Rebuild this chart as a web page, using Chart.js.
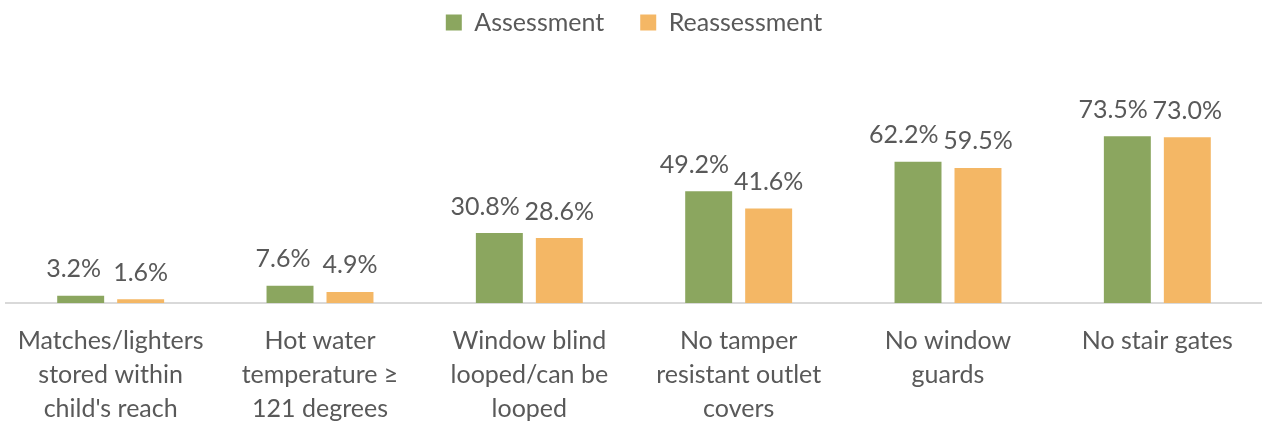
<!DOCTYPE html>
<html lang="en">
    <head>
        <meta charset="UTF-8">
        <title>Home safety - Assessment vs Reassessment</title>
        <script src="https://cdn.jsdelivr.net/npm/chart.js"></script>
        <style>
            body { margin: 0; background: #fff; }
            #wrap { width: 1262px; height: 421px; }
        </style>
    </head>
    <body>
        <div id="wrap"><canvas id="safetyChart" width="1262" height="421"></canvas></div>

        <script>
            // data
            const categories = [
                ["Matches/lighters", "stored within", "child's reach"],
                ["Hot water", "temperature \u2265", "121 degrees"],
                ["Window blind", "looped/can be", "looped"],
                ["No tamper", "resistant outlet", "covers"],
                ["No window", "guards"],
                ["No stair gates"]
            ];
            const assessment = [3.2, 7.6, 30.8, 49.2, 62.2, 73.5];
            const reassessment = [1.6, 4.9, 28.6, 41.6, 59.5, 73.0];
            const seriesNames = ["Assessment", "Reassessment"];

            const textColor = '#595959';
            const fontFamily = 'Lato, "Open Sans", sans-serif';
            const fontSize = 25;

            // value labels above each bar
            const valueLabels = {
                id: 'valueLabels',
                afterDatasetsDraw(chart) {
                    const ctx = chart.ctx;
                    ctx.save();
                    ctx.font = fontSize + 'px ' + fontFamily;
                    ctx.fillStyle = textColor;
                    ctx.textBaseline = 'bottom';
                    chart.data.datasets.forEach((ds, i) => {
                        chart.getDatasetMeta(i).data.forEach((bar, j) => {
                            const txt = ds.data[j].toFixed(1) + '%';
                            if (i === 0) {
                                ctx.textAlign = 'right';
                                ctx.fillText(txt, bar.x + bar.width / 2 - 3, bar.y - 14);
                            } else {
                                ctx.textAlign = 'center';
                                ctx.fillText(txt, bar.x, bar.y - 14);
                            }
                        });
                    });
                    ctx.restore();
                }
            };

            // make the legend block taller so the plot starts lower
            const legendSpace = {
                id: 'legendSpace',
                beforeInit(chart) {
                    const fit = chart.legend.fit;
                    chart.legend.fit = function () {
                        fit.bind(chart.legend)();
                        this.height = 102;
                    };
                }
            };

            new Chart(document.getElementById('safetyChart').getContext('2d'), {
                type: 'bar',
                data: {
                    labels: categories,
                    datasets: [{
                            label: seriesNames[0],
                            data: assessment,
                            backgroundColor: '#8ba65f'
                        }, {
                            label: seriesNames[1],
                            data: reassessment,
                            backgroundColor: '#f4b765'
                        }]
                },
                options: {
                    responsive: false,
                    animation: false,
                    layout: {
                        padding: { left: 6, right: 0, top: -26, bottom: -18 }
                    },
                    datasets: {
                        bar: {
                            categoryPercentage: 0.573,
                            barPercentage: 0.783
                        }
                    },
                    plugins: {
                        legend: {
                            position: 'top',
                            labels: {
                                color: textColor,
                                font: { family: fontFamily, size: fontSize },
                                boxWidth: 16,
                                boxHeight: 16,
                                padding: 36
                            }
                        },
                        tooltip: { enabled: false }
                    },
                    scales: {
                        x: {
                            grid: { display: false },
                            border: { color: '#d9d9d9', width: 2 },
                            ticks: {
                                color: textColor,
                                font: { family: fontFamily, size: fontSize, lineHeight: 1.36 },
                                padding: 13,
                                maxRotation: 0,
                                autoSkip: false
                            }
                        },
                        y: {
                            display: false,
                            min: 0,
                            max: 100
                        }
                    }
                },
                plugins: [valueLabels, legendSpace]
            });
        </script>
    </body>
</html>
